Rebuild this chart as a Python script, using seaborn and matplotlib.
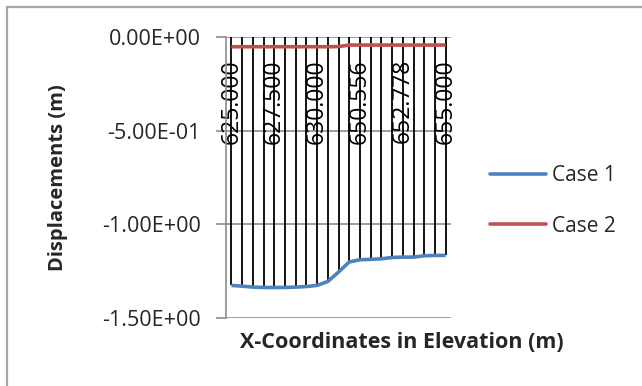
import matplotlib
matplotlib.use("Agg")
import matplotlib.pyplot as plt
from matplotlib.lines import Line2D
from matplotlib.patches import Rectangle
import numpy as np
import pandas as pd
import seaborn as sns

# X-coordinates along the elevation (category labels)
x_coords = [
    "625.000", "625.625", "626.250", "626.875", "627.500", "628.125",
    "628.750", "629.375", "630.000", "648.889", "649.444", "650.000",
    "650.556", "651.111", "651.667", "652.222", "652.778", "653.333",
    "653.889", "654.444", "655.000",
]

# Displacements (m)
case1 = [
    -1.326, -1.330, -1.335, -1.337, -1.337, -1.337, -1.335, -1.332,
    -1.326, -1.305, -1.255, -1.201, -1.189, -1.187, -1.184, -1.177,
    -1.175, -1.175, -1.168, -1.166, -1.166,
]
case2 = [
    -0.052, -0.052, -0.052, -0.052, -0.052, -0.052, -0.052, -0.052,
    -0.052, -0.052, -0.051, -0.043, -0.043, -0.043, -0.043, -0.043,
    -0.043, -0.043, -0.043, -0.043, -0.043,
]

series_names = ["Case 1", "Case 2"]
series_colors = ["#4F81BD", "#C0504D"]
y_ticks = [0.0, -0.5, -1.0, -1.5]
label_every = 4

sns.set_theme(style="white")
plt.rcParams["font.family"] = ["Open Sans", "DejaVu Sans"]

n = len(x_coords)
idx = np.arange(n)
df = pd.DataFrame({
    "pos": np.concatenate([idx, idx]),
    "disp": case1 + case2,
    "case": [series_names[0]] * n + [series_names[1]] * n,
})

fig = plt.figure(figsize=(6.42, 3.86), dpi=100)
ax = fig.add_axes([226 / 642, 1 - 318 / 386, 225 / 642, 281 / 386])

grid_col = "#8C8C8C"

# horizontal gridlines
for yv in y_ticks:
    ax.axhline(yv, color=grid_col, lw=1.2, zorder=1)

# drop lines from the category axis (y = 0) to the lowest series
lows = np.minimum(case1, case2)
ax.vlines(idx, lows, 0, colors="black", lw=1.3, zorder=2)

sns.lineplot(data=df, x="pos", y="disp", hue="case",
             palette=series_colors, lw=2.6, ax=ax, legend=False,
             zorder=3, solid_capstyle="butt")

ax.set_xlim(-0.5, n - 0.5)
ax.set_ylim(-1.5, 0.0)
ax.set_yticks(y_ticks)
ax.set_yticklabels([f"{v:.2E}" for v in y_ticks], fontsize=15.5)
ax.tick_params(axis="y", length=7, width=1.2, color=grid_col, pad=11,
               left=True, direction="out")
ax.set_xticks([])
ax.set_xlabel("")
ax.set_ylabel("")

for side in ["top", "right", "bottom"]:
    ax.spines[side].set_visible(False)
ax.spines["left"].set_color(grid_col)
ax.spines["left"].set_linewidth(1.2)
ax.set_facecolor("none")

# category labels hanging below the axis at y = 0
for i in range(0, n, label_every):
    ax.annotate(x_coords[i], xy=(i, 0), xycoords="data",
                xytext=(0, -22), textcoords="offset pixels",
                rotation=90, ha="center", va="top", fontsize=16.5,
                color="black", zorder=1.5, annotation_clip=False)

# axis titles
fig.text(402 / 642, 1 - 343 / 386, "X-Coordinates in Elevation (m)",
         ha="center", va="center", fontsize=15.5, fontweight="bold")
fig.text(58 / 642, 1 - 178 / 386, "Displacements (m)", rotation=90,
         ha="center", va="center", fontsize=14.5, fontweight="bold")

# legend
handles = [Line2D([0], [0], color=c, lw=2.6) for c in series_colors]
fig.legend(handles, series_names, loc="center left",
           bbox_to_anchor=(490 / 642, 1 - 201 / 386), frameon=False,
           fontsize=15, handlelength=2.7, handletextpad=0.3,
           labelspacing=1.4, borderpad=0, borderaxespad=0)

# chart area border
fig.add_artist(Rectangle((7 / 642, -0.1), 1.2, 1.1 - 7 / 386,
                         transform=fig.transFigure, fill=False,
                         edgecolor="#A6A6A6", lw=1.6))

fig.savefig("out.png", dpi=100)
